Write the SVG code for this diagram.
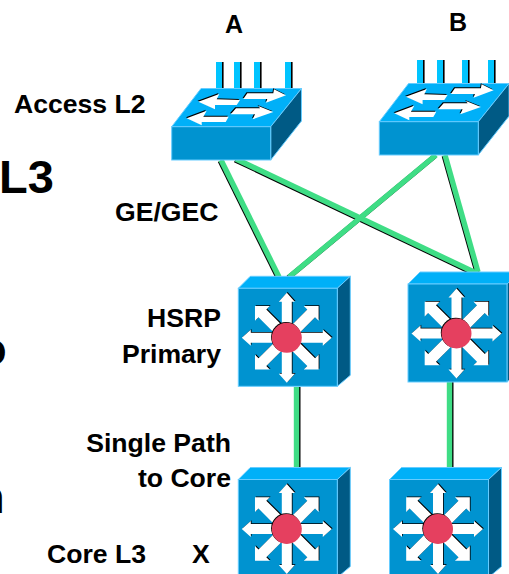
<svg xmlns="http://www.w3.org/2000/svg" width="509" height="574" viewBox="0 0 509 574">
<style>
text{font-family:"Liberation Sans",Arial,sans-serif;font-weight:bold;fill:#000}
.l{font-size:26.6px}
.r{font-size:26.6px;text-anchor:end}
.c{font-size:25px;text-anchor:middle}
.big{font-size:47px}
.top{fill:#00b0f8;stroke:#66ccff;stroke-width:1}
.front{fill:#0093d0;stroke:#66ccff;stroke-width:1}
.side{fill:#005a85;stroke:#66ccff;stroke-width:1}
.g{stroke:#3fdd85;stroke-width:5.4;fill:none}
.k{stroke:#000;stroke-width:5;fill:none}
.w{fill:#fff}
.b{fill:#000}
</style>
<defs>
<polygon id="ar" points="0,-5 36,-5 36,-8 45,0 36,8 36,5 0,5"/>
<polygon id="ad" points="0,-5.5 34.5,-5.5 34.5,-10.5 45,0 34.5,10.5 34.5,5.5 0,5.5"/>
<g id="star">
<g transform="translate(0.8,-0.8)" class="b">
<use href="#ar"/><use href="#ad" transform="rotate(45)"/><use href="#ar" transform="rotate(90)"/><use href="#ad" transform="rotate(135)"/><use href="#ar" transform="rotate(180)"/><use href="#ad" transform="rotate(225)"/><use href="#ar" transform="rotate(270)"/><use href="#ad" transform="rotate(315)"/>
</g>
<g class="w">
<use href="#ar"/><use href="#ad" transform="rotate(45)"/><use href="#ar" transform="rotate(90)"/><use href="#ad" transform="rotate(135)"/><use href="#ar" transform="rotate(180)"/><use href="#ad" transform="rotate(225)"/><use href="#ar" transform="rotate(270)"/><use href="#ad" transform="rotate(315)"/>
</g>
<circle r="15" fill="#000" cx="-0.7" cy="-0.7"/>
<circle r="15" fill="#e5405f"/>
</g>
<g id="router">
<polygon class="top" points="0,0 99,0 112,-12 12,-12"/>
<polygon class="side" points="99,0 112,-12 112,87 99,98"/>
<rect class="front" x="0" y="0" width="99" height="98"/>
<use href="#star" x="48.5" y="49.5"/>
</g>
<g id="arrows">
<polygon points="247.3,93.3 273.3,93.3 274,89.3 286,95.3 266,102.7 267.3,99 243.3,99"/>
<polygon points="198.3,101.7 219.3,94 216.7,99.3 240,100 236.7,105 215,105 215,109.3"/>
<polygon points="236,108.3 260,108.3 258.3,106 273.3,112 252.7,119.3 255,114.3 230.7,114.3"/>
<polygon points="186.7,118.3 206.7,110.7 203.3,116.7 228.7,116.7 225.7,122 201.7,122 201.7,125.3"/>
</g>
<g id="switch">
<polygon class="top" points="171.7,126.7 270.7,126.7 301.5,88.5 201,88.5"/>
<polygon class="side" points="270.7,126.7 301.5,88.5 301.5,121 270.7,160"/>
<rect class="front" x="171.7" y="126.7" width="99" height="33.3"/>
<use href="#arrows" class="b" x="-0.8" y="-1"/>
<use href="#arrows" class="w"/>
</g>
<g id="ant">
<rect x="1" y="0" width="6" height="26" fill="#00c4ff"/>
<rect x="7" y="0" width="1.6" height="26" fill="#000"/>
</g>
</defs>
<g id="left-fragments">
<text class="big" x="-1" y="193">L3</text>
<text class="big" x="-22" y="365">o</text>
<text class="big" x="-24" y="513">n</text>
</g>
<g id="connectors">
<g class="k" transform="translate(-0.9,0.9)">
<line x1="221" y1="160" x2="279" y2="277"/>
<line x1="236" y1="159" x2="476" y2="273"/>
<line x1="436" y1="155" x2="289" y2="277"/>
<line x1="445" y1="155" x2="478" y2="272"/>
</g>
<g class="g">
<line x1="221" y1="160" x2="279" y2="277"/>
<line x1="236" y1="159" x2="476" y2="273"/>
<line x1="436" y1="155" x2="289" y2="277"/>
<line x1="445" y1="155" x2="478" y2="272"/>
</g>
<line class="k" x1="298" y1="387" x2="298" y2="467"/>
<line class="g" x1="296.5" y1="387" x2="296.5" y2="467"/>
<line class="k" x1="451" y1="382" x2="451" y2="467"/>
<line class="g" x1="449.5" y1="382" x2="449.5" y2="467"/>
</g>
<g id="switch-a">
<use href="#ant" x="215" y="62"/><use href="#ant" x="233" y="62"/><use href="#ant" x="253" y="62"/><use href="#ant" x="284" y="62"/>
<use href="#switch"/>
<text class="c" x="234" y="33">A</text>
</g>
<g id="switch-b">
<use href="#ant" x="416" y="60"/><use href="#ant" x="436" y="60"/><use href="#ant" x="461" y="60"/><use href="#ant" x="487" y="60"/>
<use href="#switch" x="207.6" y="-5"/>
<text class="c" x="458" y="31">B</text>
</g>
<g id="router-hsrp"><use href="#router" x="238.3" y="288.3"/></g>
<g id="router-right"><use href="#router" x="408" y="284"/></g>
<g id="core-x"><use href="#router" x="238.3" y="479.5"/></g>
<g id="core-right"><use href="#router" x="389.5" y="479.5"/></g>
<g id="labels">
<text class="l" x="14" y="113">Access L2</text>
<text class="l" x="115" y="221">GE/GEC</text>
<text class="r" x="221" y="327">HSRP</text>
<text class="r" x="221" y="363">Primary</text>
<text class="r" x="231" y="452">Single Path</text>
<text class="r" x="231" y="487">to Core</text>
<text class="l" x="47" y="563">Core L3</text>
<text class="l" x="192" y="563">X</text>
</g>
</svg>
